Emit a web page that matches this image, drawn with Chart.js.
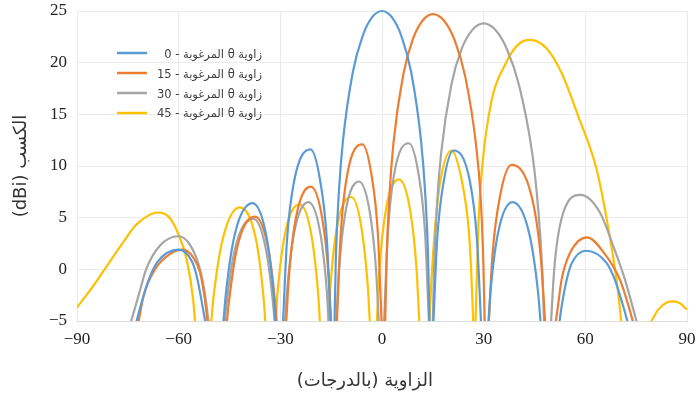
<!DOCTYPE html>
<html>
<head>
<meta charset="utf-8">
<script src="https://cdn.jsdelivr.net/npm/chart.js@4.4.1/dist/chart.umd.min.js"></script>
<style>
  html, body { margin: 0; padding: 0; background: #fff; }
  #c { display: block; }
</style>
</head>
<body>
<canvas id="c" width="697" height="398"></canvas>
<script>
// --- Dados ---
const seriesLabels = [
  "زاوية θ المرغوبة - 0",
  "زاوية θ المرغوبة - 15",
  "زاوية θ المرغوبة - 30",
  "زاوية θ المرغوبة - 45"
];

const xTicks = [-90, -60, -30, 0, 30, 60, 90];
const yTicks = [-5, 0, 5, 10, 15, 20, 25];

// [angle, gain] ; points below -5 sit under the axis and get clipped
const gain0 = [
  [-73.0, -5.75],
  [-72.4, -5], [-71.2, -3.5], [-68.7, -0.9], [-66.3, 0.7], [-60.0, 1.9], [-56, 0.7], [-54.5, -0.9], [-53, -3.5], [-52.2, -5],
  [-51.6, -6.1], [-47.37, -7.25],
  [-46.77, -5], [-46.05, -2.3], [-43.43, 3.4], [-38.2, 6.4], [-34.23, 3.4], [-32.0, -2.3], [-31.43, -5],
  [-30.83, -7.84], [-29.8, -9.0],
  [-29.2, -5], [-28.04, 2.8], [-25.95, 8.5], [-21.1, 11.6], [-18.21, 8.5], [-16.26, 2.8], [-15.19, -5],
  [-14.79, -8.0], [-14.4, -11.3],
  [-14.0, -5], [-13.6, 1.3], [-12.7, 7.6], [-11.5, 12.5], [-8.6, 19.1], [-5.7, 22.6], [-2.9, 24.4], [0, 25],
  [2.9, 24.4], [5.7, 22.6], [8.6, 19.1], [11.5, 12.5], [12.7, 7.6], [13.6, 1.3], [14.0, -5],
  [14.4, -11.3], [14.79, -8.0],
  [15.19, -5], [16.26, 2.8], [18.21, 8.5], [21.1, 11.5], [25.95, 8.5], [28.04, 2.8], [29.2, -5],
  [29.8, -9.0], [30.83, -7.9],
  [31.43, -5], [32.0, -2.2], [34.23, 3.5], [38.5, 6.5], [43.43, 3.5], [46.05, -2.2], [46.77, -5],
  [47.37, -7.3], [51.8, -6.4],
  [52.4, -5], [53.0, -3.6], [54.5, -1.0], [56, 0.6], [60.2, 1.8], [66.3, 0.6], [68.7, -1.0], [71.2, -3.6], [72.4, -5],
  [73.0, -5.7]
];

const gain15 = [
  [-72.4, -6.0],
  [-71.8, -5], [-70.3, -2.5], [-67, 0], [-62.5, 1.5], [-58.8, 1.9], [-55.8, 1.2], [-53.7, -0.3], [-52.3, -2.8], [-51.5, -5],
  [-50.9, -6.65], [-46.34, -7.05],
  [-45.74, -5], [-45.33, -3.6], [-42.75, 2.1], [-37.5, 5.1], [-33.62, 2.1], [-31.41, -3.6], [-31.08, -5],
  [-30.48, -7.5], [-28.84, -8.35],
  [-28.24, -5], [-27.47, -0.7], [-25.39, 5.0], [-21.0, 8.0], [-17.68, 5.0], [-15.74, -0.7], [-15.02, -5],
  [-14.45, -8.4], [-13.87, -9.3],
  [-13.3, -5], [-12.19, 3.4], [-10.29, 9.1], [-5.8, 12.1], [-3.08, 9.1], [-1.21, 3.4], [-0.14, -5],
  [0.23, -7.9], [0.59, -10.5],
  [0.96, -5], [1.36, 1.0], [2.22, 7.3], [3.37, 12.2], [6.25, 18.8], [9.14, 22.3], [12.05, 24.1], [15, 24.7],
  [18.2, 24.1], [21.4, 22.2], [24.6, 18.6], [27.8, 11.9], [29.1, 7.0], [29.9, 0.7], [30.3, -5],
  [30.71, -10.8], [31.13, -7.5],
  [31.54, -5], [32.6, 1.4], [34.84, 7.1], [38.2, 10.1], [44.13, 7.1], [46.79, 1.4], [48.13, -5],
  [48.73, -7.9], [50.7, -6.4],
  [51.3, -5], [51.9, -3.6], [53.0, -1.0], [55.5, 1.6], [60.5, 3.1], [65.5, 1.6], [70.2, -1.0], [72.8, -3.6], [74.0, -5],
  [74.6, -5.7]
];

const gain30 = [
  [-74.6, -5.7],
  [-74.0, -5], [-71.8, -2.5], [-69.6, 0], [-65.5, 2.3], [-60.1, 3.2], [-56.5, 2.3], [-53.7, 0], [-52.2, -2.5], [-51.2, -5],
  [-50.6, -6.5], [-47.0, -7.0],
  [-46.4, -5], [-46.05, -3.8], [-43.43, 1.9], [-38.0, 4.9], [-34.23, 1.9], [-32.0, -3.8], [-31.72, -5],
  [-31.12, -7.6], [-29.2, -8.0],
  [-28.6, -5], [-28.04, -2.2], [-25.95, 3.5], [-21.7, 6.5], [-18.21, 3.5], [-16.26, -2.2], [-15.75, -5],
  [-15.15, -8.3], [-14.07, -8.8],
  [-13.47, -5], [-12.71, -0.2], [-10.8, 5.5], [-6.8, 8.5], [-3.58, 5.5], [-1.72, -0.2], [-0.97, -5],
  [-0.44, -8.4], [0.1, -9.1],
  [0.63, -5], [1.72, 3.5], [3.58, 9.2], [7.9, 12.2], [10.8, 9.2], [12.71, 3.5], [13.83, -5],
  [14.22, -8.0], [14.61, -10.4],
  [15.0, -5], [15.37, 0.1], [16.26, 6.4], [17.46, 11.3], [20.49, 17.9], [23.58, 21.4], [26.74, 23.2], [30, 23.8],
  [33.37, 23.2], [36.87, 21.3], [40.54, 17.7], [44.43, 11.0], [46.05, 6.0], [47.31, -0.2], [47.8, -5],
  [48.4, -10.9], [49.3, -8.4],
  [49.9, -5], [50.6, -1.0], [51.5, 2.2], [53.5, 5.5], [58.6, 7.2], [64.3, 5.5], [68.3, 2.2], [71.7, -1.0], [75.1, -5],
  [75.7, -5.7]
];

const gain45 = [
  [-90, -3.7], [-85.2, -1.6], [-80.2, 0.8], [-76, 2.8], [-72.9, 4.2], [-69, 5.2], [-66.2, 5.5], [-63, 5.1],
  [-60.6, 3.8], [-57.6, 0.9], [-55.7, -3.0], [-55.2, -5],
  [-54.6, -7.4], [-50.97, -7.1],
  [-50.37, -5], [-49.72, -2.7], [-46.93, 3.0], [-42.0, 6.0], [-37.26, 3.0], [-34.96, -2.7], [-34.44, -5],
  [-33.84, -7.6], [-31.99, -7.9],
  [-31.39, -5], [-30.86, -2.4], [-28.71, 3.3], [-24.3, 6.3], [-20.82, 3.3], [-18.84, -2.4], [-18.35, -5],
  [-17.75, -8.2], [-16.43, -8.4],
  [-15.83, -5], [-15.24, -1.7], [-13.32, 4.0], [-9.0, 7.0], [-6.05, 4.0], [-4.18, -1.7], [-3.62, -5],
  [-3.02, -8.5], [-2.11, -8.9],
  [-1.51, -5], [-0.74, 0], [1.12, 5.7], [5.0, 8.7], [8.31, 5.7], [10.2, 0], [10.99, -5],
  [11.59, -8.8], [13.4, -9.0],
  [14.0, -5], [14.6, -1], [15.6, 3.8], [17.2, 8.5], [20.5, 11.5], [23.6, 8.5], [25.6, 3.8], [26.3, 0], [26.9, -5],
  [27.13, -6.9], [27.37, -7.7],
  [27.6, -5], [27.9, -1.5], [28.5, 4.8], [29.5, 9.7], [32.3, 16.3], [36.3, 19.8], [40, 21.7], [43.7, 22.2],
  [48.5, 21.4], [53, 19.0], [57.7, 15], [63.3, 9.7], [66.5, 4.5], [69.2, -1], [70.6, -5],
  [71.2, -6.7], [78.9, -5.3],
  [79.5, -5], [81.5, -3.9], [84, -3.2], [86, -3.1], [88, -3.3], [90, -3.9]
];

const seriesData = [gain0, gain15, gain30, gain45];
const seriesColors = ["#5B9BD5", "#ED7D31", "#A5A5A5", "#FFC000"];

// RTL embedding so the Arabic titles come out in the right order
const xTitle = "\u202B\u00A0\u00A0\u00A0\u00A0\u00A0\u00A0الزاوية (بالدرجات)\u202C";
const yTitle = "\u202Bالكسب (dBi)\u202C";

const arabicFont = '"DejaVu Sans", "Noto Sans", sans-serif';
const numFont = '"Liberation Serif", "DejaVu Serif", serif';

// --- Legenda dentro do gráfico ---
const legendaInterna = {
  id: "legendaInterna",
  afterDatasetsDraw(chart) {
    const ctx = chart.ctx;
    const lineY = [53, 73, 93, 113];
    const textY = [55, 75, 95, 114];
    ctx.save();
    ctx.font = "11.5px " + arabicFont;
    ctx.direction = "rtl";
    ctx.textAlign = "right";
    ctx.textBaseline = "middle";
    chart.data.datasets.forEach((ds, i) => {
      ctx.strokeStyle = ds.borderColor;
      ctx.lineWidth = 2.5;
      ctx.beginPath();
      ctx.moveTo(117, lineY[i]);
      ctx.lineTo(147, lineY[i]);
      ctx.stroke();
      ctx.fillStyle = "#404040";
      ctx.fillText(ds.label, 262, textY[i]);
    });
    ctx.restore();
  }
};

function fmtTick(v) {
  return v < 0 ? "\u2212" + Math.abs(v) : String(v);
}

const chart = new Chart(document.getElementById("c"), {
  type: "line",
  data: {
    datasets: seriesData.map((d, i) => ({
      label: seriesLabels[i],
      data: d,
      borderColor: seriesColors[i],
      backgroundColor: seriesColors[i],
      borderWidth: 2.2,
      pointRadius: 0,
      fill: false,
      cubicInterpolationMode: "monotone",
      clip: { left: 0, top: 4, right: 0, bottom: 0 }
    }))
  },
  options: {
    responsive: false,
    animation: false,
    devicePixelRatio: 1,
    layout: { padding: { top: 11, right: 10, left: 0, bottom: 0 } },
    plugins: {
      legend: { display: false },
      tooltip: { enabled: false }
    },
    scales: {
      x: {
        type: "linear",
        min: -90,
        max: 90,
        afterBuildTicks: s => { s.ticks = xTicks.map(v => ({ value: v })); },
        afterFit: s => { s.height = 77; s.paddingLeft = 0; s.paddingRight = 0; },
        ticks: {
          callback: v => fmtTick(v),
          font: { family: numFont, size: 17 },
          color: "#222",
          padding: 8,
          maxRotation: 0
        },
        grid: { color: "#ebebeb", drawTicks: false },
        border: { color: "#dcdcdc" },
        title: {
          display: true,
          text: xTitle,
          font: { family: arabicFont, size: 18 },
          color: "#333",
          padding: { top: 0, bottom: 6 }
        }
      },
      y: {
        min: -5,
        max: 25,
        afterBuildTicks: s => { s.ticks = yTicks.map(v => ({ value: v })); },
        afterFit: s => { s.width = 77; s.paddingTop = 0; s.paddingBottom = 0; },
        ticks: {
          callback: v => fmtTick(v),
          font: { family: numFont, size: 17 },
          color: "#222",
          padding: 10
        },
        grid: { color: "#ebebeb", drawTicks: false },
        border: { display: false },
        title: {
          display: true,
          text: yTitle,
          font: { family: arabicFont, size: 18 },
          color: "#333",
          padding: { top: 11, bottom: 0 }
        }
      }
    }
  },
  plugins: [legendaInterna]
});
</script>
</body>
</html>
